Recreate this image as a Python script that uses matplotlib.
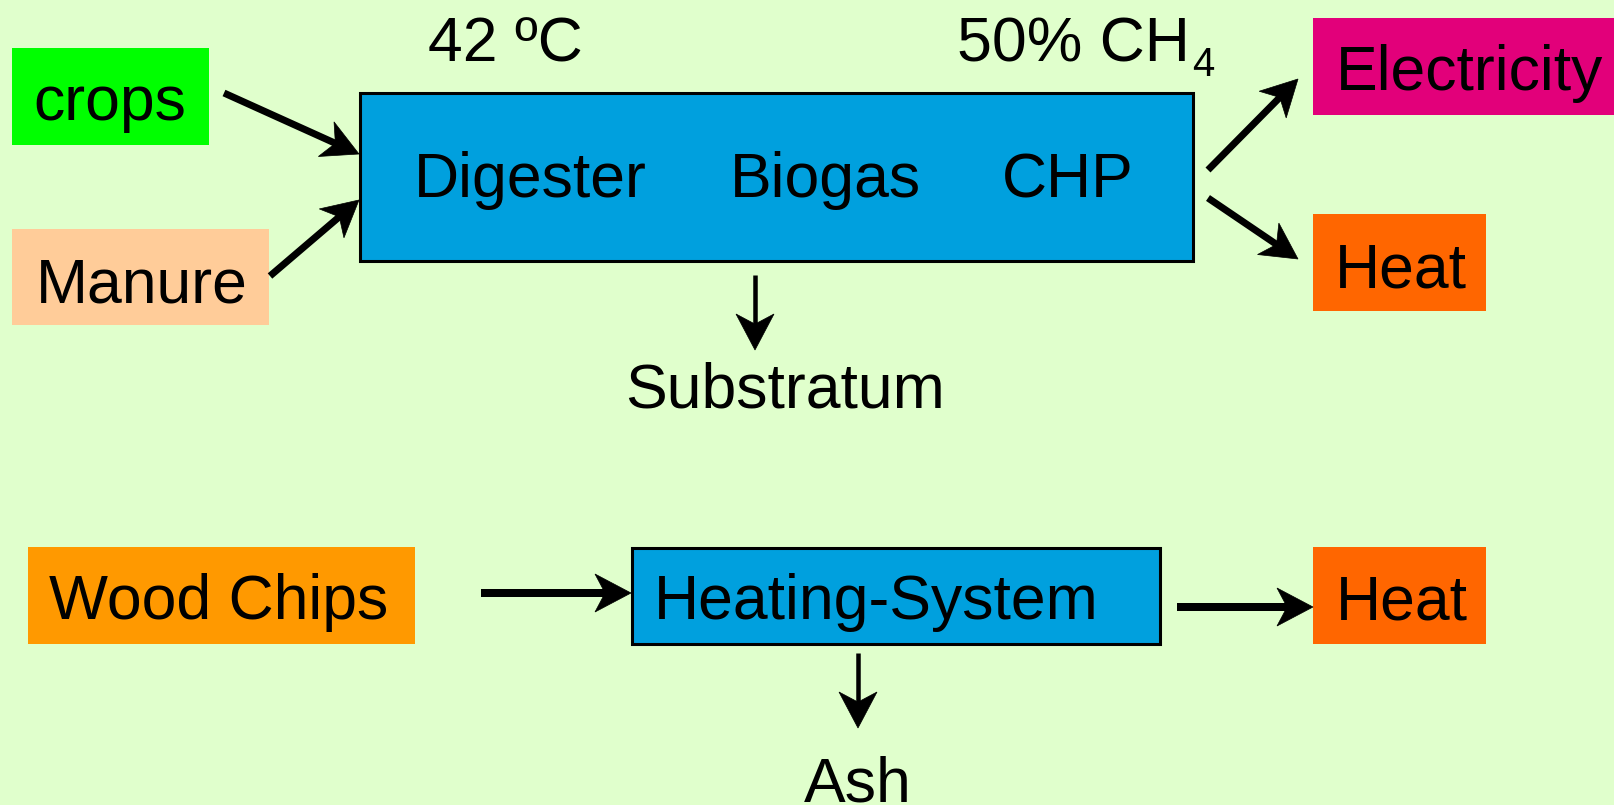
import matplotlib
matplotlib.use("Agg")
import matplotlib.pyplot as plt
from matplotlib.patches import Rectangle, Polygon
import numpy as np

plt.rcParams['font.family'] = ['Liberation Sans', 'DejaVu Sans']

# ---- content ----
box_labels = ["crops", "Manure", "Electricity", "Heat", "Wood Chips", "Heat"]
box_colors = ["#00FF00", "#FFCC99", "#E2007A", "#FF6600", "#FF9900", "#FF6600"]
process_labels = ["Digester", "Biogas", "CHP"]
lower_process = "Heating-System"
temperature_label = "42 ºC"
methane_label = "50% CH"
methane_sub = "4"
output_labels = ["Substratum", "Ash"]

BG = "#E0FFCC"
BLUE = "#00A0DE"
FS = 45

# ---- layout (pixel coordinates, y downward) ----
box_rects = [(12, 48, 197, 97), (12, 229, 257, 96), (1313, 18, 320, 97),
             (1313, 214, 173, 97), (28, 547, 387, 97), (1313, 547, 173, 97)]
box_text = [(33, 120), (36, 302), (1336, 90), (1335, 287), (49, 619), (1336, 619)]

fig = plt.figure(figsize=(16.15, 8.05), dpi=100)
fig.patch.set_facecolor(BG)
ax = fig.add_axes([0, 0, 1, 1])
ax.set_xlim(0, 1615)
ax.set_ylim(805, 0)
ax.axis('off')
ax.set_facecolor(BG)

for (x, y, w, h), c, lab, (tx, ty) in zip(box_rects, box_colors, box_labels, box_text):
    ax.add_patch(Rectangle((x, y), w, h, facecolor=c, edgecolor='none'))
    ax.text(tx, ty, lab, fontsize=FS, ha='left', va='baseline', color='black')

# main process box
ax.add_patch(Rectangle((360, 93), 833, 168, facecolor=BLUE, edgecolor='black', linewidth=2.2))
for lab, tx in zip(process_labels, [414, 730, 1002]):
    ax.text(tx, 197, lab, fontsize=FS, ha='left', va='baseline')

# heating system box
ax.add_patch(Rectangle((632, 548), 528, 96, facecolor=BLUE, edgecolor='black', linewidth=2.2))
ax.text(654, 619, lower_process, fontsize=FS, ha='left', va='baseline')

# top annotations
ax.text(428, 61, temperature_label, fontsize=FS, ha='left', va='baseline')
ax.text(957, 61, methane_label, fontsize=FS, ha='left', va='baseline')
ax.text(1192, 76, methane_sub, fontsize=29, ha='left', va='baseline')

# outputs
ax.text(785, 407, output_labels[0], fontsize=FS, ha='center', va='baseline')
ax.text(858, 801, output_labels[1], fontsize=FS, ha='center', va='baseline')


def arrow(x0, y0, x1, y1, lw_px, hl=36, hw=38):
    p0 = np.array([x0, y0], float)
    p1 = np.array([x1, y1], float)
    d = p1 - p0
    d /= np.hypot(*d)
    n = np.array([-d[1], d[0]])
    notch = p1 - 0.72 * hl * d
    ax.plot([p0[0], notch[0] + 2 * d[0]], [p0[1], notch[1] + 2 * d[1]],
            color='black', linewidth=lw_px * 0.72, solid_capstyle='butt')
    base = p1 - hl * d
    pts = [p1, base + n * hw / 2, notch, base - n * hw / 2]
    ax.add_patch(Polygon(pts, closed=True, facecolor='black', edgecolor='black', linewidth=0.5))


arrow(224, 93, 359, 154, 7)
arrow(270, 276, 359, 200, 7)
arrow(1208, 170, 1298, 79, 7)
arrow(1208, 198, 1298, 259, 7)
arrow(755, 275, 755, 350, 4.5)
arrow(481, 593, 631, 593, 8)
arrow(1177, 607, 1313, 607, 8)
arrow(858, 653, 858, 728, 4.5)

fig.savefig("out.png", dpi=100, facecolor=BG)
